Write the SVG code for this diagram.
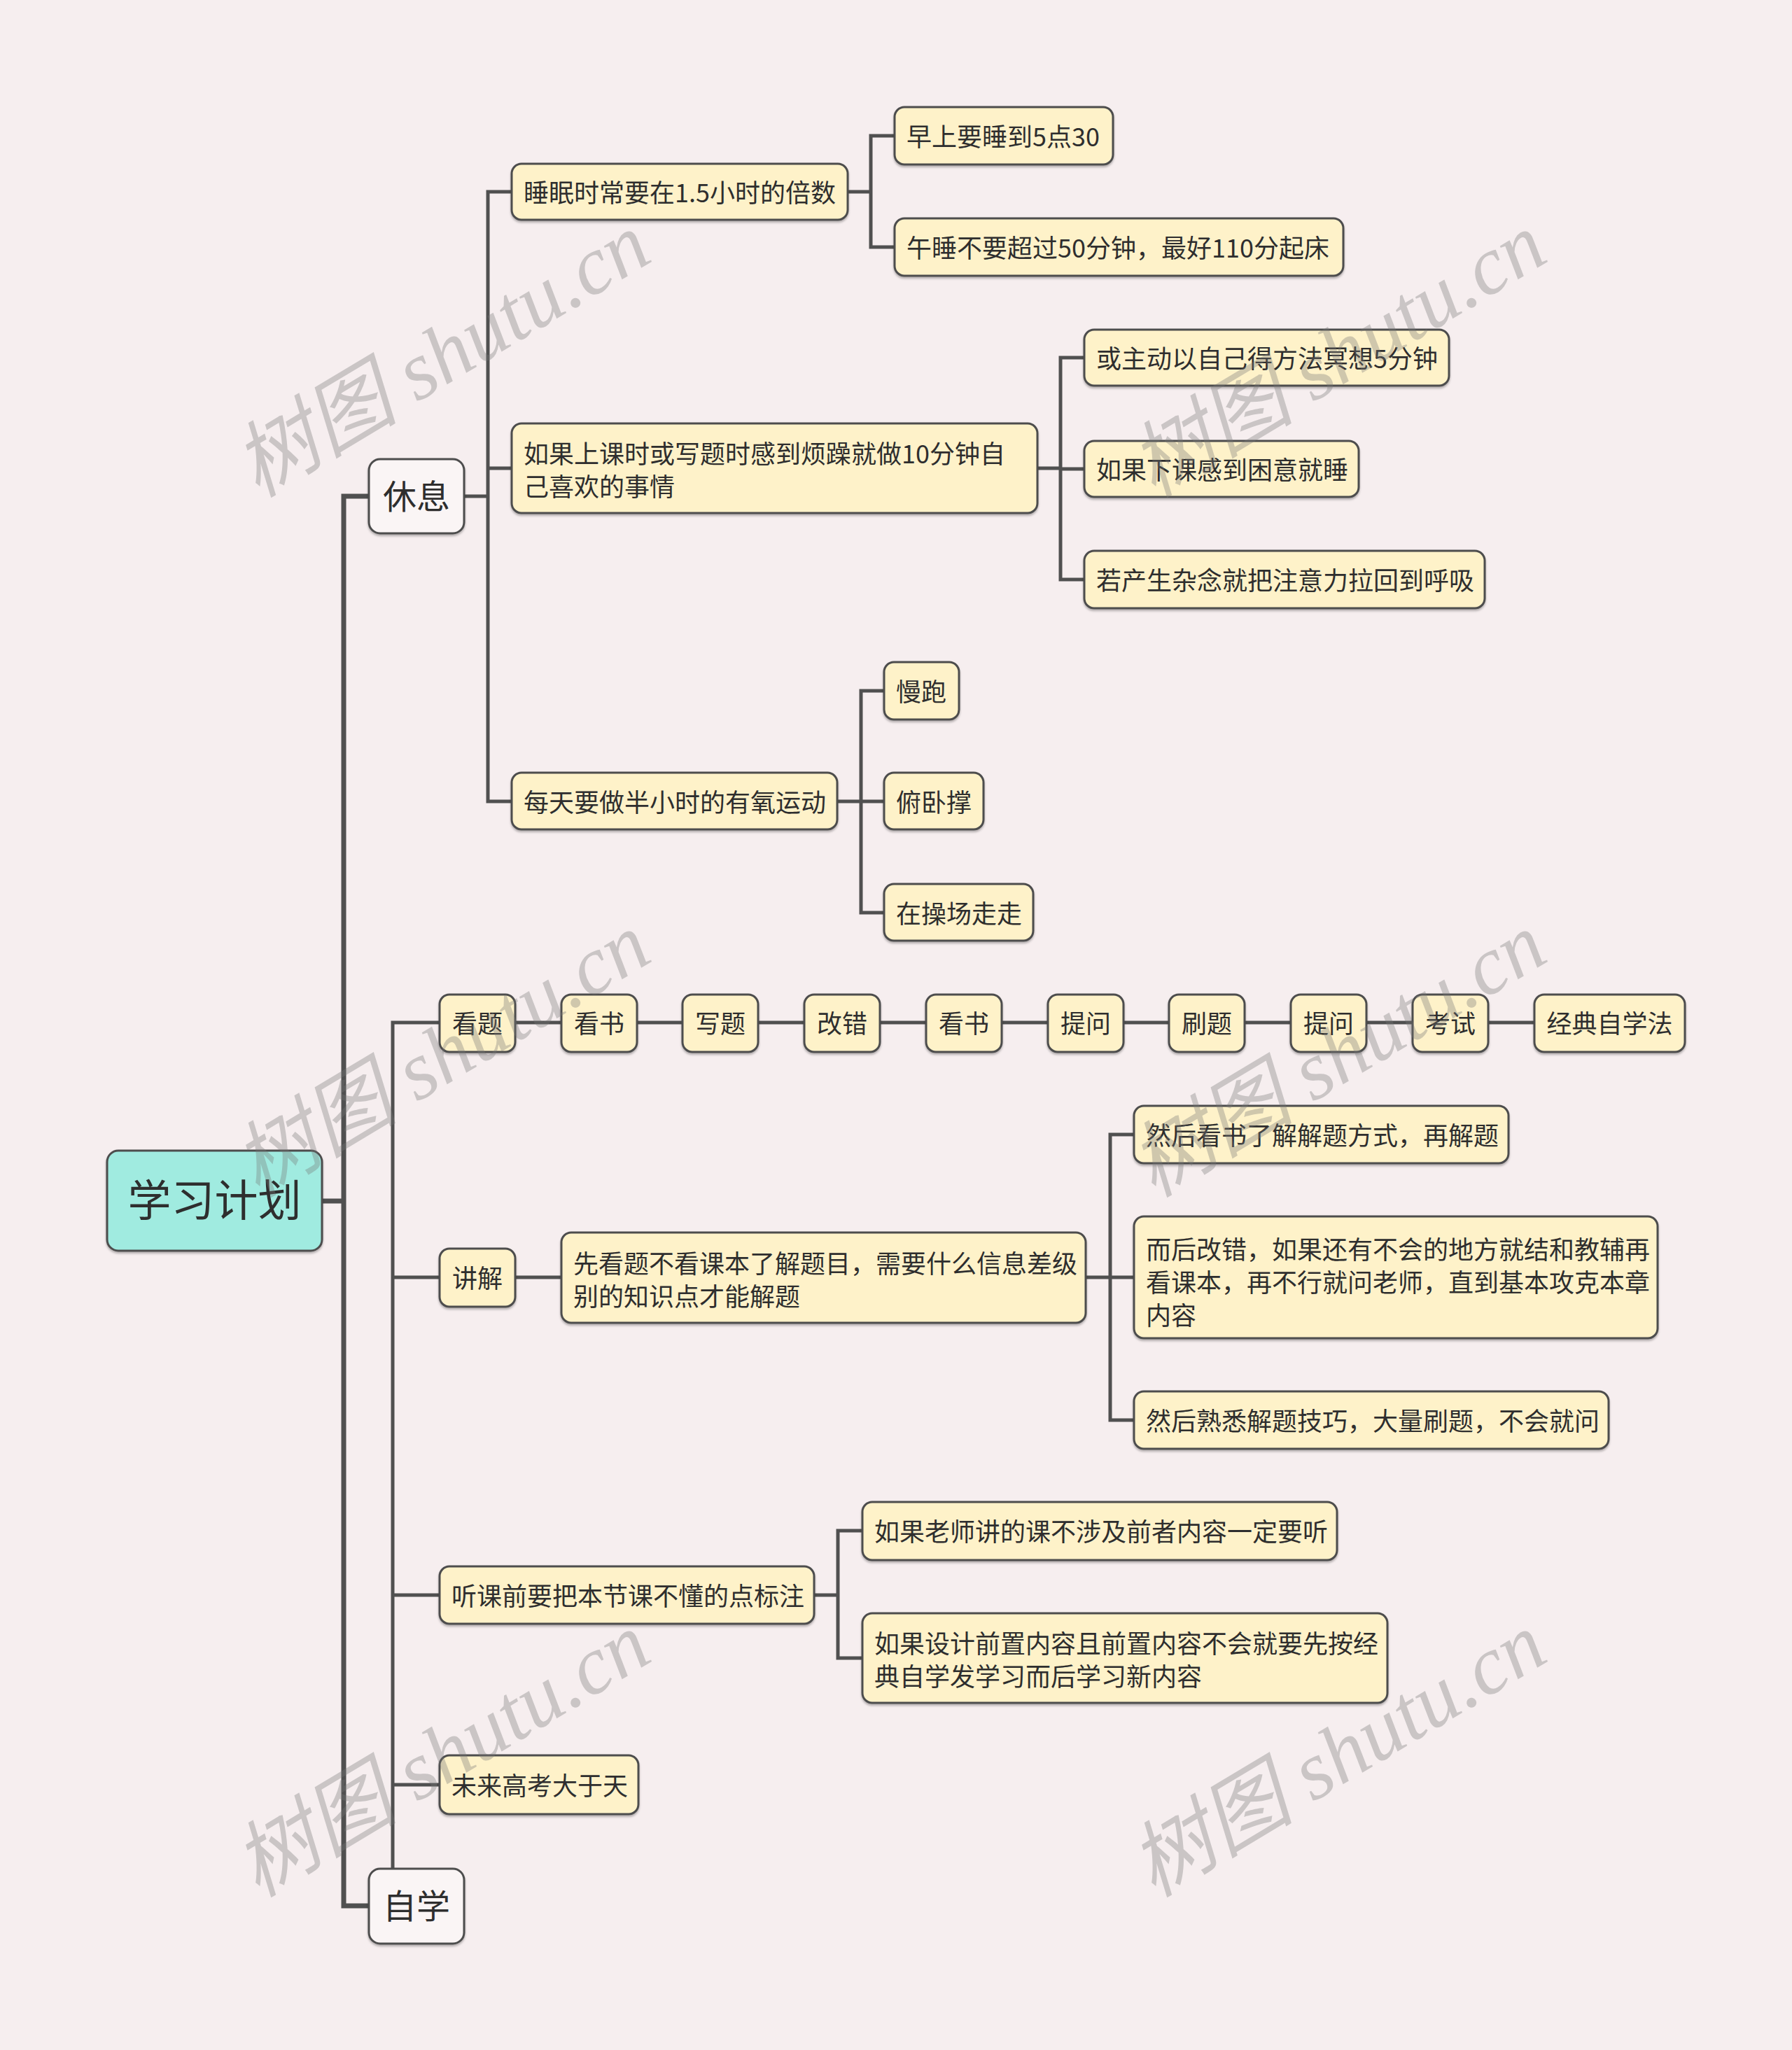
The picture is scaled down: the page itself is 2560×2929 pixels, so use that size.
<svg xmlns="http://www.w3.org/2000/svg" width="2560" height="2929" viewBox="0 0 2560 2929">
<defs>
<filter id="sh" x="-5%" y="-10%" width="110%" height="130%">
<feDropShadow dx="0" dy="2.5" stdDeviation="1.5" flood-color="#000" flood-opacity="0.28"/>
</filter>
<style>
.bx{fill:#fef2c9;stroke:#4d4d4d;stroke-width:3;filter:url(#sh)}
.wb{fill:#faf5f5;stroke:#4d4d4d;stroke-width:3;filter:url(#sh)}
.rt{fill:#a0ebe0;stroke:#4d4d4d;stroke-width:3;filter:url(#sh)}
.t{font-family:"Noto Sans CJK SC","Noto Sans",sans-serif;font-size:36px;fill:#2e2e2e}
.c{text-anchor:middle}
.ln{fill:none;stroke:#505050;stroke-width:5}
.lw{fill:none;stroke:#505050;stroke-width:7}
.wm{font-family:"Liberation Serif","Noto Sans CJK SC",serif;font-style:italic;font-size:118px;fill:#777;opacity:0.34}
</style>
</defs>
<rect width="2560" height="2929" fill="#f6eeef"/>

<g id="connectors">
<path class="lw" d="M460,1716 H491"/>
<path class="lw" d="M527,709 H491 V2723 H527"/>
<path class="ln" d="M663,709 H697"/>
<path class="ln" d="M731,274 H697 V1145 H731"/>
<path class="ln" d="M697,669 H731"/>
<path class="ln" d="M1211,274 H1244"/>
<path class="ln" d="M1278,194 H1244 V353 H1278"/>
<path class="ln" d="M1482,669 H1515"/>
<path class="ln" d="M1549,511 H1515 V828 H1549"/>
<path class="ln" d="M1515,670 H1549"/>
<path class="ln" d="M1196,1145 H1263"/>
<path class="ln" d="M1263,987 H1230 V1304 H1263"/>
<path class="ln" d="M561,2670 V1461 H628"/>
<path class="ln" d="M561,1825 H628"/>
<path class="ln" d="M561,2279 H628"/>
<path class="ln" d="M561,2550 H628"/>
<path class="ln" d="M736,1461 H802"/>
<path class="ln" d="M910,1461 H975"/>
<path class="ln" d="M1083,1461 H1149"/>
<path class="ln" d="M1257,1461 H1323"/>
<path class="ln" d="M1431,1461 H1497"/>
<path class="ln" d="M1605,1461 H1670"/>
<path class="ln" d="M1778,1461 H1844"/>
<path class="ln" d="M1952,1461 H2018"/>
<path class="ln" d="M2126,1461 H2192"/>
<path class="ln" d="M736,1825 H802"/>
<path class="ln" d="M1551,1825 H1620"/>
<path class="ln" d="M1620,1621 H1586 V2029 H1620"/>
<path class="ln" d="M1163,2279 H1197"/>
<path class="ln" d="M1232,2187 H1197 V2369 H1232"/>
</g>

<g id="root"><rect class="rt" x="153" y="1644" width="307" height="143" rx="16"/><text class="t c" x="306.5" y="1738" style="font-size:62px">学习计划</text></g>

<g id="xiuxi"><rect class="wb" x="527" y="656" width="136" height="106" rx="16"/><text class="t c" x="595" y="727" style="font-size:48px">休息</text></g>
<g id="zixue"><rect class="wb" x="527" y="2670" width="136" height="107" rx="16"/><text class="t c" x="595" y="2741" style="font-size:48px">自学</text></g>

<g id="n-shuimian"><rect class="bx" x="731" y="234" width="480" height="80" rx="14"/><text class="t" x="748" y="289">睡眠时常要在1.5小时的倍数</text></g>
<g id="n-zaoshang"><rect class="bx" x="1278" y="153" width="312" height="82" rx="14"/><text class="t" x="1295" y="209">早上要睡到5点30</text></g>
<g id="n-wushui"><rect class="bx" x="1278" y="312" width="641" height="82" rx="14"/><text class="t" x="1295" y="368">午睡不要超过50分钟，最好110分起床</text></g>

<g id="n-fanzao"><rect class="bx" x="731" y="605" width="751" height="128" rx="14"/><text class="t" x="748" y="662">如果上课时或写题时感到烦躁就做10分钟自</text><text class="t" x="748" y="709">己喜欢的事情</text></g>
<g id="n-mingxiang"><rect class="bx" x="1549" y="471" width="521" height="80" rx="14"/><text class="t" x="1566" y="526">或主动以自己得方法冥想5分钟</text></g>
<g id="n-kunyi"><rect class="bx" x="1549" y="630" width="392" height="80" rx="14"/><text class="t" x="1566" y="685">如果下课感到困意就睡</text></g>
<g id="n-zanian"><rect class="bx" x="1549" y="787" width="572" height="82" rx="14"/><text class="t" x="1566" y="843">若产生杂念就把注意力拉回到呼吸</text></g>

<g id="n-youyang"><rect class="bx" x="731" y="1104" width="465" height="81" rx="14"/><text class="t" x="748" y="1160">每天要做半小时的有氧运动</text></g>
<g id="n-manpao"><rect class="bx" x="1263" y="946" width="107" height="82" rx="14"/><text class="t" x="1280" y="1002">慢跑</text></g>
<g id="n-fuwocheng"><rect class="bx" x="1263" y="1104" width="142" height="81" rx="14"/><text class="t" x="1280" y="1160">俯卧撑</text></g>
<g id="n-caochang"><rect class="bx" x="1263" y="1263" width="213" height="81" rx="14"/><text class="t" x="1280" y="1319">在操场走走</text></g>

<g id="c1"><rect class="bx" x="628" y="1421" width="108" height="82" rx="14"/><text class="t c" x="682" y="1476">看题</text></g>
<g id="c2"><rect class="bx" x="802" y="1421" width="108" height="82" rx="14"/><text class="t c" x="856" y="1476">看书</text></g>
<g id="c3"><rect class="bx" x="975" y="1421" width="108" height="82" rx="14"/><text class="t c" x="1029" y="1476">写题</text></g>
<g id="c4"><rect class="bx" x="1149" y="1421" width="108" height="82" rx="14"/><text class="t c" x="1203" y="1476">改错</text></g>
<g id="c5"><rect class="bx" x="1323" y="1421" width="108" height="82" rx="14"/><text class="t c" x="1377" y="1476">看书</text></g>
<g id="c6"><rect class="bx" x="1497" y="1421" width="108" height="82" rx="14"/><text class="t c" x="1551" y="1476">提问</text></g>
<g id="c7"><rect class="bx" x="1670" y="1421" width="108" height="82" rx="14"/><text class="t c" x="1724" y="1476">刷题</text></g>
<g id="c8"><rect class="bx" x="1844" y="1421" width="108" height="82" rx="14"/><text class="t c" x="1898" y="1476">提问</text></g>
<g id="c9"><rect class="bx" x="2018" y="1421" width="108" height="82" rx="14"/><text class="t c" x="2072" y="1476">考试</text></g>
<g id="c10"><rect class="bx" x="2192" y="1421" width="215" height="82" rx="14"/><text class="t c" x="2299.5" y="1476">经典自学法</text></g>

<g id="n-jiangjie"><rect class="bx" x="628" y="1784" width="108" height="83" rx="14"/><text class="t c" x="682" y="1840">讲解</text></g>
<g id="n-xiankan"><rect class="bx" x="802" y="1761" width="749" height="129" rx="14"/><text class="t" x="819" y="1819">先看题不看课本了解题目，需要什么信息差级</text><text class="t" x="819" y="1866">别的知识点才能解题</text></g>
<g id="n-kanshu"><rect class="bx" x="1620" y="1580" width="535" height="82" rx="14"/><text class="t" x="1637" y="1636">然后看书了解解题方式，再解题</text></g>
<g id="n-gaicuo"><rect class="bx" x="1620" y="1738" width="748" height="174" rx="14"/><text class="t" x="1637" y="1799">而后改错，如果还有不会的地方就结和教辅再</text><text class="t" x="1637" y="1846">看课本，再不行就问老师，直到基本攻克本章</text><text class="t" x="1637" y="1893">内容</text></g>
<g id="n-shuxi"><rect class="bx" x="1620" y="1988" width="678" height="82" rx="14"/><text class="t" x="1637" y="2044">然后熟悉解题技巧，大量刷题，不会就问</text></g>

<g id="n-tingke"><rect class="bx" x="628" y="2238" width="535" height="82" rx="14"/><text class="t" x="645" y="2294">听课前要把本节课不懂的点标注</text></g>
<g id="n-laoshi"><rect class="bx" x="1232" y="2146" width="678" height="83" rx="14"/><text class="t" x="1249" y="2202">如果老师讲的课不涉及前者内容一定要听</text></g>
<g id="n-qianzhi"><rect class="bx" x="1232" y="2305" width="750" height="128" rx="14"/><text class="t" x="1249" y="2362">如果设计前置内容且前置内容不会就要先按经</text><text class="t" x="1249" y="2409">典自学发学习而后学习新内容</text></g>
<g id="n-gaokao"><rect class="bx" x="628" y="2508" width="284" height="84" rx="14"/><text class="t" x="645" y="2565">未来高考大于天</text></g>

<g id="watermarks">
<text class="wm" transform="translate(368,712) rotate(-31)">树图 shutu.cn</text>
<text class="wm" transform="translate(1648,712) rotate(-31)">树图 shutu.cn</text>
<text class="wm" transform="translate(368,1712) rotate(-31)">树图 shutu.cn</text>
<text class="wm" transform="translate(1648,1712) rotate(-31)">树图 shutu.cn</text>
<text class="wm" transform="translate(368,2712) rotate(-31)">树图 shutu.cn</text>
<text class="wm" transform="translate(1648,2712) rotate(-31)">树图 shutu.cn</text>
</g>
</svg>
